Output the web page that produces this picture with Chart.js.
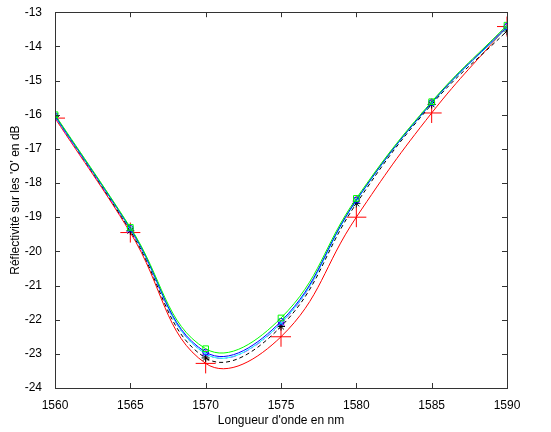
<!DOCTYPE html>
<html lang="fr">
<head>
    <meta charset="UTF-8">
    <title>Réflectivité</title>
    <script src="https://cdn.jsdelivr.net/npm/chart.js"></script>
    <style>
        body { margin: 0; background: #fff; }
        #wrap { width: 551px; height: 432px; }
    </style>
</head>
<body>
<div id="wrap"><canvas id="reflChart"></canvas></div>
<script>
    // longueurs d'onde (nm)
    const wavelengths = [1560, 1565, 1570, 1575, 1580, 1585, 1590];
    // courbes (dB)
    const greenVals   = [-16.00, -19.30, -22.85, -21.95, -18.45, -15.62, -13.38];
    const blueVals    = [-16.03, -19.33, -22.95, -22.05, -18.50, -15.65, -13.42];
    const cyanVals    = [-16.05, -19.35, -23.00, -22.10, -18.52, -15.66, -13.45];
    const blackVals   = [-16.05, -19.40, -23.12, -22.20, -18.60, -15.70, -13.55];
    const magentaVals = [-16.08, -19.38, -23.00, -22.12, -18.50, -15.64, -13.40];
    const redVals     = [-16.10, -19.45, -23.28, -22.50, -19.00, -15.95, -13.42];
    const yTicks = [-24, -23, -22, -21, -20, -19, -18, -17, -16, -15, -14, -13];

    function toPoints(vals) {
        return wavelengths.map((x, i) => ({ x: x, y: vals[i] }));
    }

    function serie(label, vals, color, style, radius, dash) {
        return {
            label: label,
            data: toPoints(vals),
            borderColor: color,
            backgroundColor: 'rgba(0,0,0,0)',
            pointBorderColor: color,
            pointBackgroundColor: 'rgba(0,0,0,0)',
            pointStyle: style,
            pointRadius: radius,
            pointBorderWidth: 1,
            borderWidth: 1,
            borderDash: dash || [],
            tension: 0.42,
            fill: false
        };
    }

    // cadre + graduations intérieures (style MATLAB)
    const boxPlugin = {
        id: 'box',
        afterDraw(chart) {
            const c = chart.ctx, a = chart.chartArea;
            const xs = chart.scales.x, ys = chart.scales.y;
            c.save();
            c.strokeStyle = '#333';
            c.lineWidth = 1;
            c.strokeRect(Math.round(a.left) + 0.5, Math.round(a.top) + 0.5,
                Math.round(a.right - a.left), Math.round(a.bottom - a.top));
            c.beginPath();
            xs.ticks.forEach(t => {
                const px = Math.round(xs.getPixelForValue(t.value)) + 0.5;
                c.moveTo(px, a.bottom); c.lineTo(px, a.bottom - 5);
                c.moveTo(px, a.top); c.lineTo(px, a.top + 5);
            });
            ys.ticks.forEach(t => {
                const py = Math.round(ys.getPixelForValue(t.value)) + 0.5;
                c.moveTo(a.left, py); c.lineTo(a.left + 5, py);
                c.moveTo(a.right, py); c.lineTo(a.right - 5, py);
            });
            c.stroke();
            c.restore();
        }
    };

    const font = { family: 'Liberation Sans, Arial, sans-serif', size: 12 };

    new Chart(document.getElementById('reflChart').getContext('2d'), {
        type: 'line',
        data: {
            datasets: [
                serie('s1', greenVals, '#00ff00', 'rect', 4),
                serie('s2', blueVals, '#0000ff', 'circle', 3),
                serie('s3', cyanVals, '#00ffff', 'crossRot', 4),
                serie('s4', blackVals, '#000000', 'star', 4, [4, 3]),
                serie('s5', magentaVals, '#ff00ff', 'triangle', 4, [6, 3, 2, 3]),
                serie('s6', redVals, '#ff0000', 'cross', 10)
            ]
        },
        options: {
            responsive: true,
            maintainAspectRatio: false,
            animation: false,
            layout: { padding: { top: 12, right: 44, left: 0, bottom: 0 } },
            plugins: { legend: { display: false }, tooltip: { enabled: false } },
            scales: {
                x: {
                    type: 'linear',
                    min: 1560, max: 1590,
                    ticks: { stepSize: 5, color: '#000', font: font, padding: 2, maxRotation: 0,
                        callback: v => String(v) },
                    grid: { display: false },
                    border: { display: false },
                    title: { display: true, text: "Longueur d'onde en nm", color: '#000', font: font, padding: { top: 2 } },
                    afterFit: s => { s.height = 44; }
                },
                y: {
                    type: 'linear',
                    min: -24, max: -13,
                    afterBuildTicks: s => { s.ticks = yTicks.map(v => ({ value: v })); },
                    ticks: { color: '#000', font: font, padding: 5 },
                    grid: { display: false },
                    border: { display: false },
                    title: { display: true, text: "Réflectivité sur les 'O' en dB", color: '#000', font: font, padding: { top: 8, bottom: 2 } },
                    afterFit: s => { s.width = 55; }
                }
            }
        },
        plugins: [boxPlugin]
    });
</script>
</body>
</html>
